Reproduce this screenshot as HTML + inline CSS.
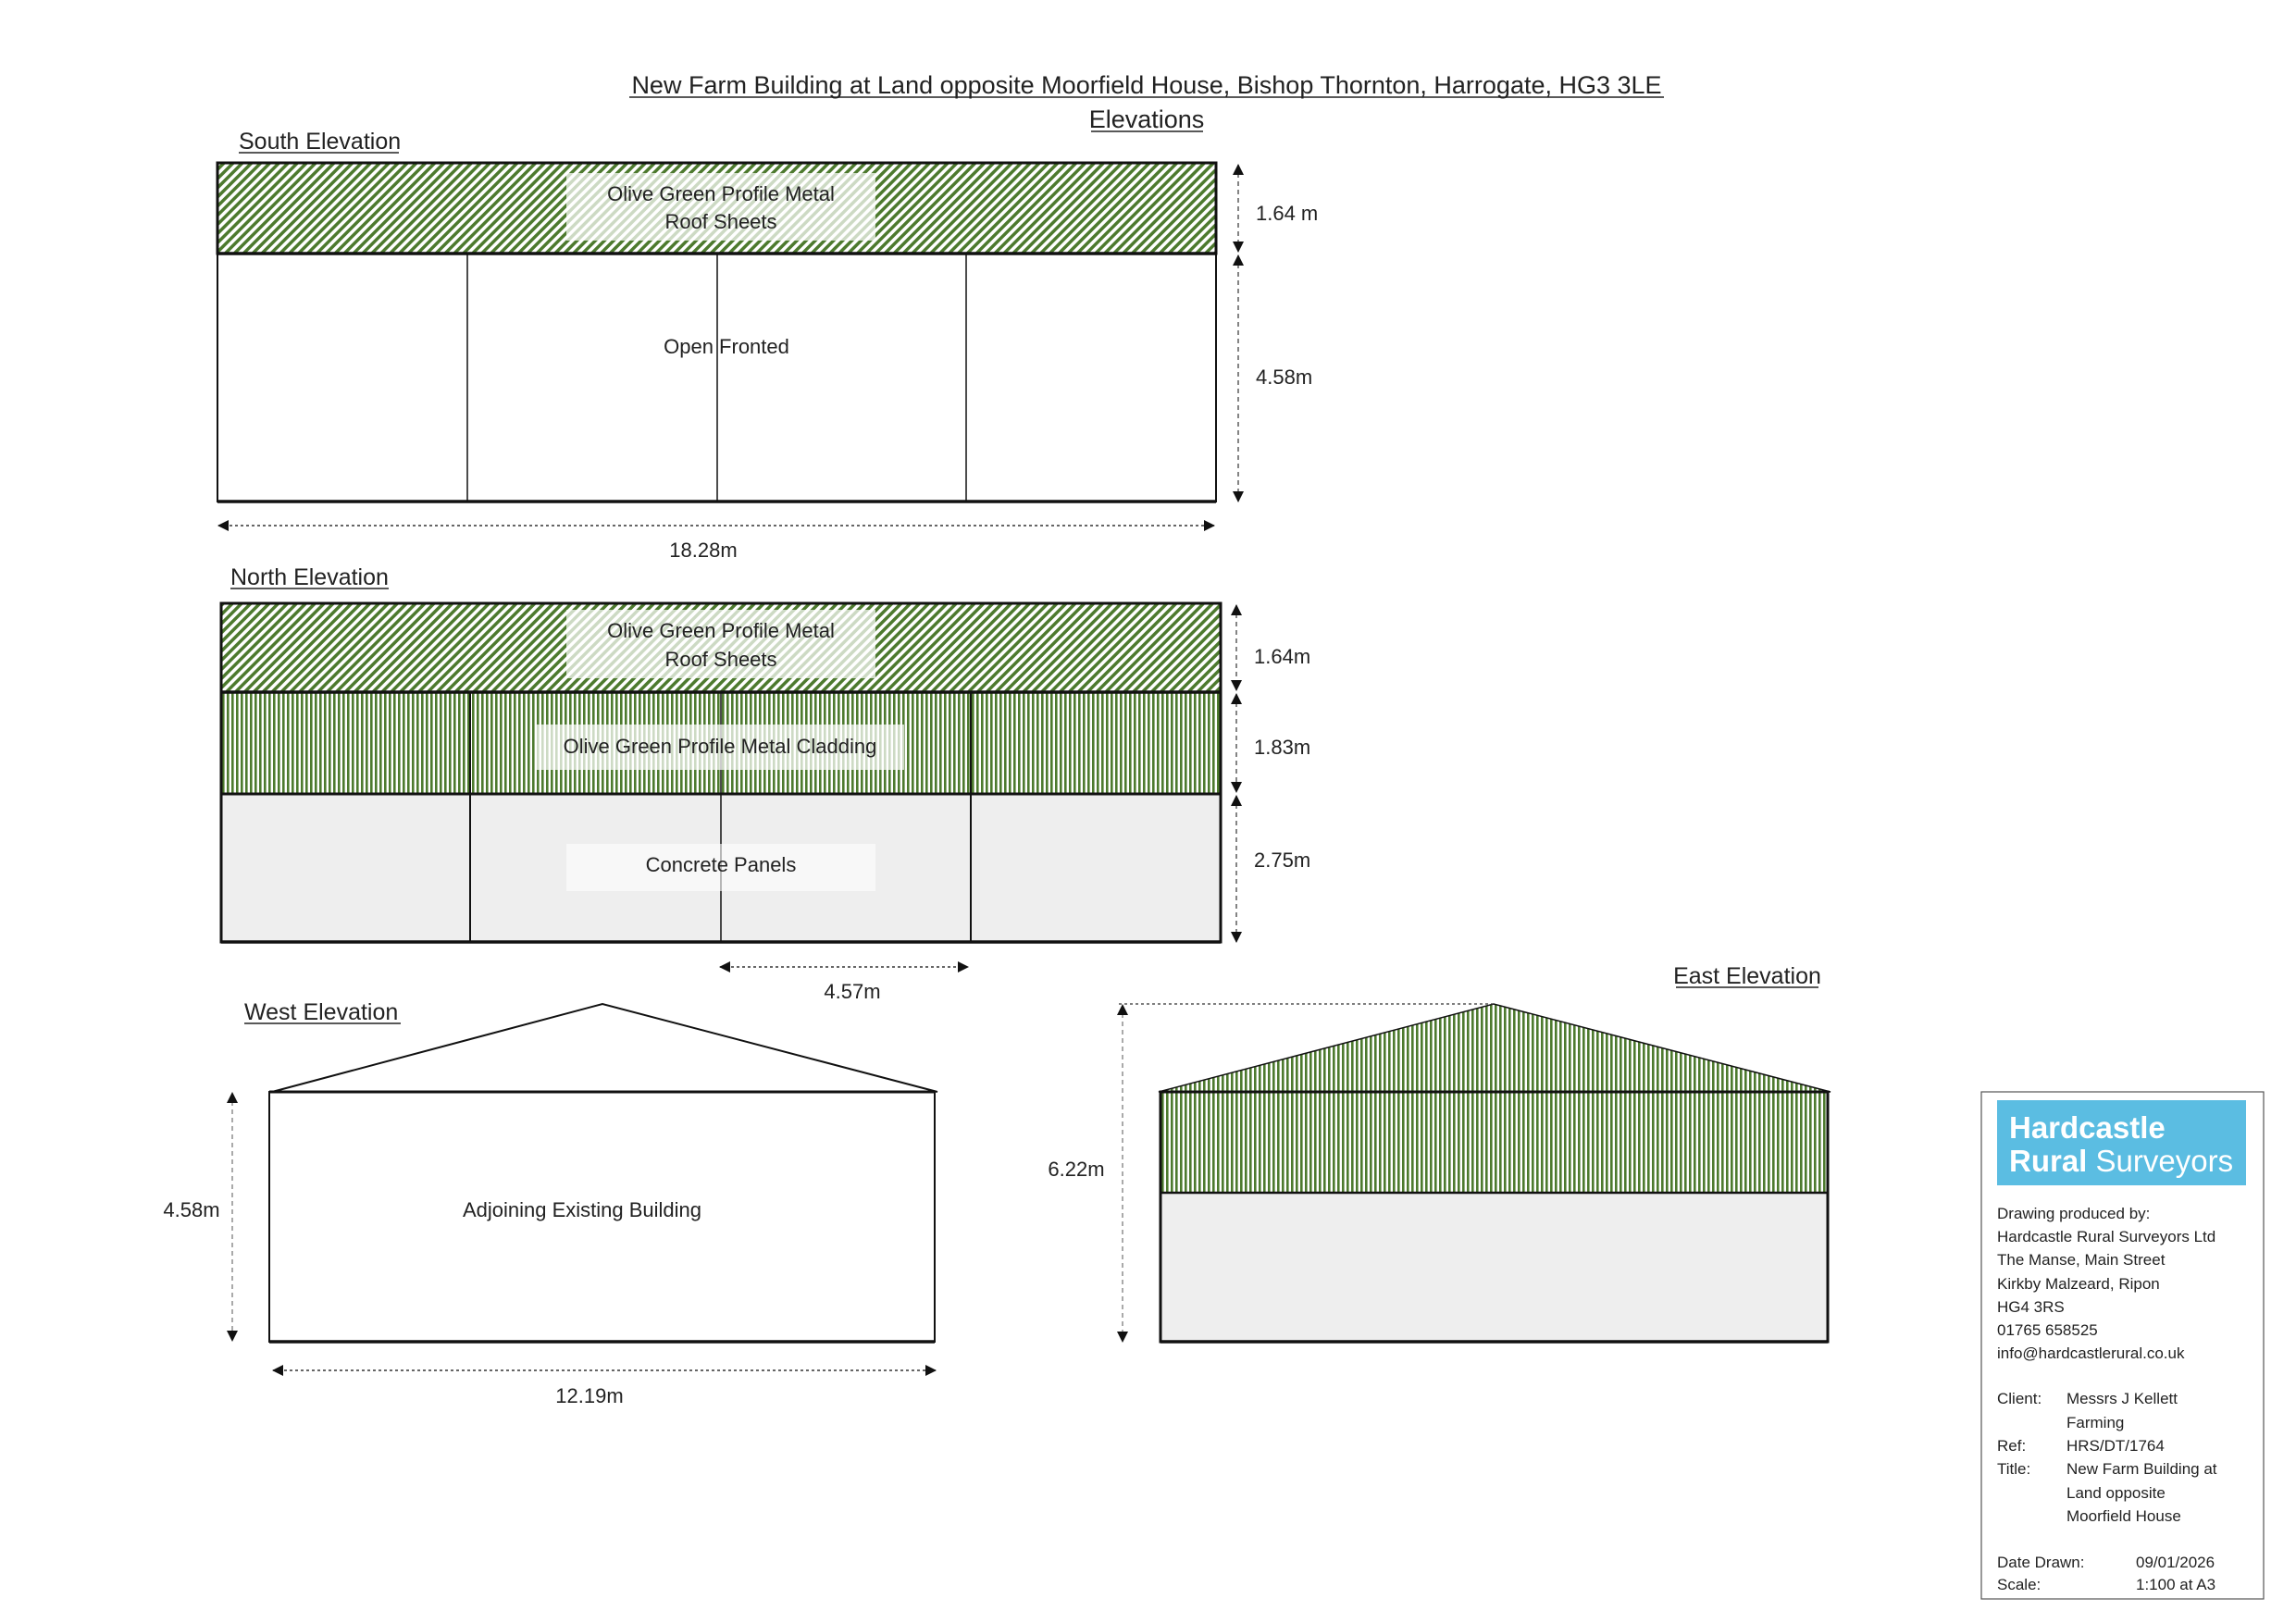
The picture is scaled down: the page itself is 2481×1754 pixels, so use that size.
<!DOCTYPE html>
<html><head><meta charset="utf-8"><style>
html,body{margin:0;padding:0;background:#fff}
svg{display:block}
text{font-family:"Liberation Sans",Arial,sans-serif;fill:#222}
</style></head><body>
<svg width="2481" height="1754" viewBox="0 0 2481 1754" xmlns="http://www.w3.org/2000/svg">
<defs>
<pattern id="diag" width="7" height="7" patternUnits="userSpaceOnUse" patternTransform="rotate(45)">
<rect width="7" height="7" fill="#fff"/><rect width="3.5" height="7" fill="#4d7a2e"/>
</pattern>
<pattern id="vert" width="5" height="10" patternUnits="userSpaceOnUse">
<rect width="5" height="10" fill="#fff"/><rect width="2.6" height="10" fill="#4d7a2e"/>
</pattern>
<marker id="ah" markerWidth="12" markerHeight="12" refX="11" refY="6" orient="auto-start-reverse" markerUnits="userSpaceOnUse">
<path d="M0,0 L12,6 L0,12 z" fill="#111"/>
</marker>
</defs>

<!-- Title -->
<text x="1239" y="101" font-size="27" text-anchor="middle">New Farm Building at Land opposite Moorfield House, Bishop Thornton, Harrogate, HG3 3LE</text>
<line x1="680" y1="105" x2="1798" y2="105" stroke="#222" stroke-width="1.5"/>
<text x="1239" y="138" font-size="27" text-anchor="middle">Elevations</text>
<line x1="1179" y1="142" x2="1300" y2="142" stroke="#222" stroke-width="1.5"/>

<!-- South Elevation -->
<text x="258" y="161" font-size="25">South Elevation</text>
<line x1="258" y1="165" x2="431" y2="165" stroke="#222" stroke-width="1.5"/>
<rect x="235" y="176" width="1079" height="98" fill="url(#diag)" stroke="#111" stroke-width="3"/>
<rect x="612" y="187" width="334" height="73" fill="rgba(255,255,255,0.72)"/>
<text x="779" y="217" font-size="22" text-anchor="middle">Olive Green Profile Metal</text>
<text x="779" y="247" font-size="22" text-anchor="middle">Roof Sheets</text>
<rect x="235" y="274" width="1079" height="268" fill="#fff" stroke="#111" stroke-width="2"/>
<line x1="235" y1="542" x2="1314" y2="542" stroke="#111" stroke-width="3.5"/>
<line x1="235" y1="274" x2="1314" y2="274" stroke="#111" stroke-width="3.5"/>
<line x1="505" y1="274" x2="505" y2="542" stroke="#111" stroke-width="1.5"/>
<line x1="775" y1="274" x2="775" y2="542" stroke="#111" stroke-width="1.5"/>
<line x1="1044" y1="274" x2="1044" y2="542" stroke="#111" stroke-width="1.5"/>
<text x="785" y="382" font-size="22" text-anchor="middle">Open Fronted</text>
<line x1="1338" y1="178" x2="1338" y2="272" stroke="#333" stroke-width="1.2" stroke-dasharray="5,4" marker-start="url(#ah)" marker-end="url(#ah)"/>
<line x1="1338" y1="276" x2="1338" y2="542" stroke="#333" stroke-width="1.2" stroke-dasharray="5,4" marker-start="url(#ah)" marker-end="url(#ah)"/>
<text x="1357" y="238" font-size="22">1.64 m</text>
<text x="1357" y="415" font-size="22">4.58m</text>
<line x1="236" y1="568" x2="1312" y2="568" stroke="#333" stroke-width="1.5" stroke-dasharray="3,3" marker-start="url(#ah)" marker-end="url(#ah)"/>
<text x="760" y="602" font-size="22" text-anchor="middle">18.28m</text>

<!-- North Elevation -->
<text x="249" y="632" font-size="25">North Elevation</text>
<line x1="249" y1="636" x2="420" y2="636" stroke="#222" stroke-width="1.5"/>
<rect x="239" y="652" width="1080" height="96" fill="url(#diag)"/>
<rect x="239" y="748" width="1080" height="110" fill="url(#vert)"/>
<rect x="239" y="858" width="1080" height="160" fill="#eeeeee"/>
<rect x="239" y="652" width="1080" height="366" fill="none" stroke="#111" stroke-width="3"/>
<line x1="239" y1="748" x2="1319" y2="748" stroke="#111" stroke-width="3.5"/>
<line x1="239" y1="858" x2="1319" y2="858" stroke="#111" stroke-width="3"/>
<line x1="239" y1="1018" x2="1319" y2="1018" stroke="#111" stroke-width="3.5"/>
<line x1="508" y1="748" x2="508" y2="1018" stroke="#111" stroke-width="2"/>
<line x1="779" y1="748" x2="779" y2="1018" stroke="#111" stroke-width="1.5"/>
<line x1="1049" y1="748" x2="1049" y2="1018" stroke="#111" stroke-width="2"/>
<rect x="612" y="659" width="334" height="74" fill="rgba(255,255,255,0.72)"/>
<text x="779" y="689" font-size="22" text-anchor="middle">Olive Green Profile Metal</text>
<text x="779" y="720" font-size="22" text-anchor="middle">Roof Sheets</text>
<rect x="579" y="783" width="398" height="49" fill="rgba(255,255,255,0.72)"/>
<text x="778" y="814" font-size="22" text-anchor="middle">Olive Green Profile Metal Cladding</text>
<rect x="612" y="912" width="334" height="51" fill="rgba(255,255,255,0.6)"/>
<text x="779" y="942" font-size="22" text-anchor="middle">Concrete Panels</text>
<line x1="1336" y1="654" x2="1336" y2="746" stroke="#333" stroke-width="1.2" stroke-dasharray="5,4" marker-start="url(#ah)" marker-end="url(#ah)"/>
<line x1="1336" y1="750" x2="1336" y2="856" stroke="#333" stroke-width="1.2" stroke-dasharray="5,4" marker-start="url(#ah)" marker-end="url(#ah)"/>
<line x1="1336" y1="860" x2="1336" y2="1018" stroke="#333" stroke-width="1.2" stroke-dasharray="5,4" marker-start="url(#ah)" marker-end="url(#ah)"/>
<text x="1355" y="717" font-size="22">1.64m</text>
<text x="1355" y="815" font-size="22">1.83m</text>
<text x="1355" y="937" font-size="22">2.75m</text>
<line x1="778" y1="1045" x2="1046" y2="1045" stroke="#333" stroke-width="1.5" stroke-dasharray="3,3" marker-start="url(#ah)" marker-end="url(#ah)"/>
<text x="921" y="1079" font-size="22" text-anchor="middle">4.57m</text>

<!-- West Elevation -->
<text x="264" y="1102" font-size="25">West Elevation</text>
<line x1="264" y1="1106" x2="433" y2="1106" stroke="#222" stroke-width="1.5"/>
<polyline points="294,1180 651,1085 1013,1180" fill="none" stroke="#111" stroke-width="2"/>
<rect x="291" y="1180" width="719" height="270" fill="#fff" stroke="#111" stroke-width="2"/>
<line x1="291" y1="1180" x2="1010" y2="1180" stroke="#111" stroke-width="3"/>
<line x1="291" y1="1450" x2="1010" y2="1450" stroke="#111" stroke-width="3.5"/>
<text x="629" y="1315" font-size="22" text-anchor="middle">Adjoining Existing Building</text>
<line x1="251" y1="1181" x2="251" y2="1449" stroke="#555" stroke-width="1" stroke-dasharray="5,4" marker-start="url(#ah)" marker-end="url(#ah)"/>
<text x="207" y="1315" font-size="22" text-anchor="middle">4.58m</text>
<line x1="295" y1="1481" x2="1011" y2="1481" stroke="#333" stroke-width="1.5" stroke-dasharray="3,3" marker-start="url(#ah)" marker-end="url(#ah)"/>
<text x="637" y="1516" font-size="22" text-anchor="middle">12.19m</text>

<!-- East Elevation -->
<text x="1888" y="1063" font-size="25" text-anchor="middle">East Elevation</text>
<line x1="1811" y1="1067" x2="1965" y2="1067" stroke="#222" stroke-width="1.5"/>
<polygon points="1252,1180 1614,1085 1978,1180" fill="url(#vert)" stroke="#111" stroke-width="1.5"/>
<rect x="1254" y="1180" width="721" height="109" fill="url(#vert)"/>
<rect x="1254" y="1289" width="721" height="161" fill="#eeeeee"/>
<rect x="1254" y="1180" width="721" height="270" fill="none" stroke="#111" stroke-width="3"/>
<line x1="1254" y1="1289" x2="1975" y2="1289" stroke="#111" stroke-width="2.5"/>
<line x1="1254" y1="1450" x2="1975" y2="1450" stroke="#111" stroke-width="3.5"/>
<line x1="1209" y1="1085" x2="1614" y2="1085" stroke="#333" stroke-width="1.2" stroke-dasharray="3,3"/>
<line x1="1213" y1="1086" x2="1213" y2="1450" stroke="#555" stroke-width="1" stroke-dasharray="5,4" marker-start="url(#ah)" marker-end="url(#ah)"/>
<text x="1163" y="1271" font-size="22" text-anchor="middle">6.22m</text>

<!-- Title block -->
<rect x="2141" y="1180" width="305" height="548" fill="#fff" stroke="#555" stroke-width="1.2"/>
<rect x="2158" y="1189" width="269" height="92" fill="#5bbde2"/>
<text x="2171" y="1230" font-size="33" font-weight="bold" style="fill:#fff">Hardcastle</text>
<text x="2171" y="1266" font-size="33" style="fill:#fff"><tspan font-weight="bold">Rural</tspan> Surveyors</text>
<g font-size="17">
<text x="2158" y="1317">Drawing produced by:</text>
<text x="2158" y="1342">Hardcastle Rural Surveyors Ltd</text>
<text x="2158" y="1367">The Manse, Main Street</text>
<text x="2158" y="1393">Kirkby Malzeard, Ripon</text>
<text x="2158" y="1418">HG4 3RS</text>
<text x="2158" y="1443">01765 658525</text>
<text x="2158" y="1468">info@hardcastlerural.co.uk</text>
<text x="2158" y="1517">Client:</text><text x="2233" y="1517">Messrs J Kellett</text>
<text x="2233" y="1543">Farming</text>
<text x="2158" y="1568">Ref:</text><text x="2233" y="1568">HRS/DT/1764</text>
<text x="2158" y="1593">Title:</text><text x="2233" y="1593">New Farm Building at</text>
<text x="2233" y="1619">Land opposite</text>
<text x="2233" y="1644">Moorfield House</text>
<text x="2158" y="1694">Date Drawn:</text><text x="2308" y="1694">09/01/2026</text>
<text x="2158" y="1718">Scale:</text><text x="2308" y="1718">1:100 at A3</text>
</g>
</svg>
</body></html>
